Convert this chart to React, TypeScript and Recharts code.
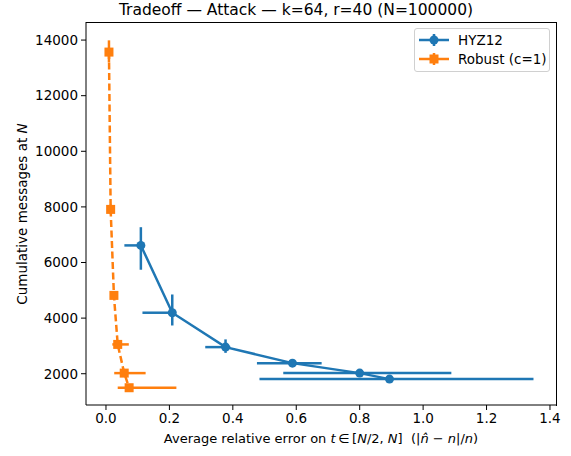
import { ScatterChart, Scatter, XAxis, YAxis, ErrorBar } from 'recharts';

// HYZ12 series: point values and the bounds of their error bars
const hyzX = [0.110, 0.209, 0.377, 0.588, 0.800, 0.894];
const hyzY = [6615, 4194, 2957, 2381, 2022, 1806];
const hyzXLo = [0.058, 0.115, 0.313, 0.476, 0.559, 0.484];
const hyzXHi = [0.112, 0.211, 0.392, 0.680, 1.089, 1.348];
const hyzYLo = [5740, 3735, 2750, 2340, 1990, 1780];
const hyzYHi = [7270, 4850, 3235, 2420, 2055, 1830];

// Robust (c=1) series
const robX = [0.0094, 0.0147, 0.025, 0.037, 0.0575, 0.073];
const robY = [13568, 7910, 4817, 3054, 2022, 1496];
const robXLo = [0.008, 0.013, 0.022, 0.020, 0.026, 0.037];
const robXHi = [0.011, 0.016, 0.028, 0.072, 0.125, 0.222];
const robYLo = [13200, 7740, 4700, 2980, 1990, 1470];
const robYHi = [13990, 8080, 4930, 3130, 2055, 1525];

const xTicks = [0, 0.2, 0.4, 0.6, 0.8, 1.0, 1.2, 1.4];
const yTicks = [2000, 4000, 6000, 8000, 10000, 12000, 14000];

const BLUE = '#1f77b4';
const ORANGE = '#ff7f0e';
const FONT = '"DejaVu Sans", sans-serif';

const build = (xs: number[], ys: number[], xl: number[], xh: number[], yl: number[], yh: number[]) =>
  xs.map((x, i) => ({
    x,
    y: ys[i],
    ex: [x - xl[i], xh[i] - x],
    ey: [ys[i] - yl[i], yh[i] - ys[i]],
  }));

const hyzData = build(hyzX, hyzY, hyzXLo, hyzXHi, hyzYLo, hyzYHi);
const robData = build(robX, robY, robXLo, robXHi, robYLo, robYHi);

const tickStyle = { fill: '#000', fontSize: 13.5, fontFamily: FONT };

const Dot = (p: any) => <circle cx={p.cx} cy={p.cy} r={4.5} fill={BLUE} />;
const Sq = (p: any) => <rect x={p.cx - 4.5} y={p.cy - 4.5} width={9} height={9} fill={ORANGE} />;

function LegendRow({ color, square, label, top }: { color: string; square?: boolean; label: string; top: number }) {
  return (
    <div style={{ position: 'absolute', left: 4, top, height: 20, display: 'flex', alignItems: 'center' }}>
      <svg width={32} height={20}>
        <line x1={0} y1={10} x2={30} y2={10} stroke={color} strokeWidth={2.5} />
        <line x1={15} y1={4} x2={15} y2={16} stroke={color} strokeWidth={2.5} />
        {square ? <rect x={10.5} y={5.5} width={9} height={9} fill={color} /> : <circle cx={15} cy={10} r={4.5} fill={color} />}
      </svg>
      <span style={{ marginLeft: 7, fontSize: 13.5, fontFamily: FONT, color: '#000' }}>{label}</span>
    </div>
  );
}

export default function App() {
  return (
    <div style={{ position: 'absolute', left: 0, top: 0, width: 571, height: 456, background: '#fff', fontFamily: FONT }}>
      <ScatterChart width={571} height={456} margin={{ top: 22, right: 15, left: 0, bottom: 0 }}>
        <XAxis
          type="number"
          dataKey="x"
          domain={[-0.063, 1.419]}
          ticks={xTicks}
          tickFormatter={(v: number) => v.toFixed(1)}
          allowDataOverflow
          height={51}
          tickSize={5}
          tickMargin={3}
          axisLine={{ stroke: '#000', strokeWidth: 1 }}
          tickLine={{ stroke: '#000' }}
          tick={tickStyle}
        />
        <YAxis
          type="number"
          dataKey="y"
          domain={[875, 14650]}
          ticks={yTicks}
          allowDataOverflow
          width={86}
          tickSize={5}
          tickMargin={3}
          axisLine={{ stroke: '#000', strokeWidth: 1 }}
          tickLine={{ stroke: '#000' }}
          tick={tickStyle}
        />
        <Scatter
          data={hyzData}
          fill={BLUE}
          line={{ stroke: BLUE, strokeWidth: 2.5 }}
          lineType="joint"
          shape={Dot}
          isAnimationActive={false}
        >
          <ErrorBar dataKey="ex" direction="x" width={0} stroke={BLUE} strokeWidth={2.5} />
          <ErrorBar dataKey="ey" direction="y" width={0} stroke={BLUE} strokeWidth={2.5} />
        </Scatter>
        <Scatter
          data={robData}
          fill={ORANGE}
          line={{ stroke: ORANGE, strokeWidth: 2.5, strokeDasharray: '7 3.5' }}
          lineType="joint"
          shape={Sq}
          isAnimationActive={false}
        >
          <ErrorBar dataKey="ex" direction="x" width={0} stroke={ORANGE} strokeWidth={2.5} />
          <ErrorBar dataKey="ey" direction="y" width={0} stroke={ORANGE} strokeWidth={2.5} />
        </Scatter>
      </ScatterChart>

      {/* top and right spines */}
      <div
        style={{
          position: 'absolute',
          left: 86,
          top: 22,
          width: 470,
          height: 383,
          borderTop: '1px solid #000',
          borderRight: '1px solid #000',
          pointerEvents: 'none',
        }}
      />

      <div style={{ position: 'absolute', left: 0, top: 0, width: 592, textAlign: 'center', fontSize: 15.5, color: '#000', lineHeight: '20px' }}>
        Tradeoff — Attack — k=64, r=40 (N=100000)
      </div>

      <div style={{ position: 'absolute', left: 86, top: 430, width: 470, textAlign: 'center', fontSize: 13, color: '#000', lineHeight: '18px', whiteSpace: 'pre' }}>
        Average relative error on <i>t</i>{'\u2009∈\u2009'}[<i>N</i>/2, <i>N</i>]  (|<i>n̂</i> − <i>n</i>|/<i>n</i>)
      </div>

      <div
        style={{
          position: 'absolute',
          left: 21.5 - 150,
          top: 214 - 9,
          width: 300,
          height: 18,
          lineHeight: '18px',
          textAlign: 'center',
          fontSize: 13.5,
          color: '#000',
          transform: 'rotate(-90deg)',
        }}
      >
        Cumulative messages at <i>N</i>
      </div>

      <div
        style={{
          position: 'absolute',
          left: 414,
          top: 28,
          width: 134,
          height: 42,
          border: '1px solid #d0d0d0',
          borderRadius: 3,
          background: 'rgba(255,255,255,0.8)',
        }}
      >
        <LegendRow color={BLUE} label="HYZ12" top={1} />
        <LegendRow color={ORANGE} square label="Robust (c=1)" top={20} />
      </div>
    </div>
  );
}
